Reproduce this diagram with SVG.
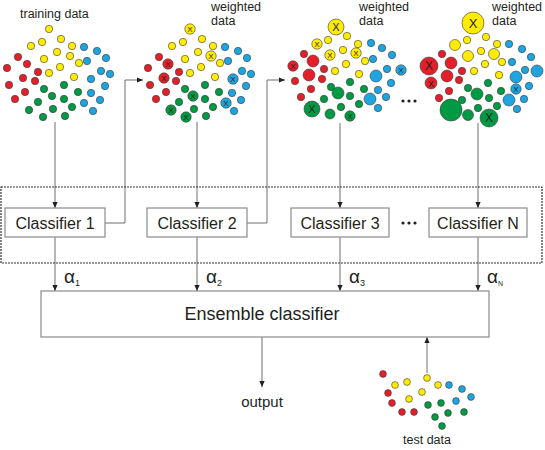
<svg xmlns="http://www.w3.org/2000/svg" width="545" height="450" viewBox="0 0 545 450">
<style>
text{font-family:"Liberation Sans",Arial,sans-serif;fill:#231f20}
.lbl{font-size:12.5px}
.cls{font-size:16px;text-anchor:middle}
.box{fill:#fff;stroke:#8a8a8a;stroke-width:1.2}
.ln{fill:none;stroke:#6e6e6e;stroke-width:1}
.r{fill:#e3202a;stroke:#3a3a3a;stroke-width:.6}
.y{fill:#ffec00;stroke:#3a3a3a;stroke-width:.6}
.g{fill:#009a44;stroke:#3a3a3a;stroke-width:.6}
.b{fill:#1ea5e0;stroke:#3a3a3a;stroke-width:.6}
.x{text-anchor:middle;font-size:8px}
.al{font-size:19px}
.sub{font-size:9px}
.dot{fill:#231f20}
</style>
<defs>
<marker id="ah" viewBox="0 0 6 6" refX="6" refY="3" markerWidth="6" markerHeight="6" markerUnits="userSpaceOnUse" orient="auto">
<path d="M0,0.4 L6,3 L0,5.6 Z" fill="#231f20"/>
</marker>
</defs>

<g id="connectors" class="ln">
<path d="M55,122 V208" marker-end="url(#ah)"/>
<path d="M105,223 H125 V80 H143" marker-end="url(#ah)"/>
<path d="M197,122 V208" marker-end="url(#ah)"/>
<path d="M247,223 H267 V80 H285" marker-end="url(#ah)"/>
<path d="M340,123 V208" marker-end="url(#ah)"/>
<path d="M478,123 V208" marker-end="url(#ah)"/>
<path d="M55,237 V291" marker-end="url(#ah)"/>
<path d="M197,237 V291" marker-end="url(#ah)"/>
<path d="M340,237 V291" marker-end="url(#ah)"/>
<path d="M478,237 V291" marker-end="url(#ah)"/>
<path d="M262,337 V387" marker-end="url(#ah)"/>
<path d="M427,373 V337" marker-end="url(#ah)"/>
</g>

<rect id="ensemble-group" x="1" y="187" width="541" height="76" fill="none" stroke="#333" stroke-width="1.2" stroke-dasharray="2,1"/>

<g id="training-data">
<text class="lbl" x="20" y="18">training data</text>
<circle class="y" cx="49" cy="29" r="3.7"/><circle class="y" cx="31" cy="46" r="3.7"/><circle class="y" cx="42" cy="42" r="3.7"/><circle class="y" cx="61" cy="39" r="3.7"/><circle class="y" cx="72" cy="46" r="3.7"/><circle class="y" cx="57" cy="52" r="3.7"/><circle class="y" cx="70" cy="56" r="3.7"/><circle class="y" cx="44" cy="59" r="3.7"/><circle class="y" cx="79" cy="63" r="3.7"/><circle class="y" cx="60" cy="67" r="3.7"/><circle class="y" cx="49" cy="73" r="3.7"/><circle class="y" cx="74" cy="77" r="3.7"/>
<circle class="r" cx="18" cy="57" r="3.7"/><circle class="r" cx="27" cy="64" r="3.7"/><circle class="r" cx="7" cy="68" r="3.7"/><circle class="r" cx="38" cy="72" r="3.7"/><circle class="r" cx="23" cy="78" r="3.7"/><circle class="r" cx="35" cy="81" r="3.7"/><circle class="r" cx="9" cy="85" r="3.7"/><circle class="r" cx="25" cy="92" r="3.7"/><circle class="r" cx="15" cy="99" r="3.7"/>
<circle class="g" cx="64" cy="85" r="3.7"/><circle class="g" cx="44" cy="89" r="3.7"/><circle class="g" cx="78" cy="92" r="3.7"/><circle class="g" cx="52" cy="96" r="3.7"/><circle class="g" cx="64" cy="99" r="3.7"/><circle class="g" cx="38" cy="102" r="3.7"/><circle class="g" cx="72" cy="107" r="3.7"/><circle class="g" cx="53" cy="109" r="3.7"/><circle class="g" cx="29" cy="110" r="3.7"/><circle class="g" cx="43" cy="117" r="3.7"/><circle class="g" cx="65" cy="116" r="3.7"/>
<circle class="b" cx="84" cy="47" r="3.7"/><circle class="b" cx="97" cy="51" r="3.7"/><circle class="b" cx="106" cy="58" r="3.7"/><circle class="b" cx="87" cy="61" r="3.7"/><circle class="b" cx="101" cy="71" r="3.7"/><circle class="b" cx="110" cy="74" r="3.7"/><circle class="b" cx="91" cy="79" r="3.7"/><circle class="b" cx="105" cy="86" r="3.7"/><circle class="b" cx="91" cy="93" r="3.7"/><circle class="b" cx="84" cy="103" r="3.7"/><circle class="b" cx="100" cy="100" r="3.7"/><circle class="b" cx="93" cy="111" r="3.7"/>
</g>

<g id="weighted-data-2">
<text class="lbl" x="211" y="11">weighted</text><text class="lbl" x="211" y="25">data</text>
<circle class="y" cx="190" cy="29" r="5.2"/><text class="x" x="190" y="32">X</text>
<circle class="y" cx="172" cy="46" r="3.7"/><circle class="y" cx="183" cy="42" r="3.7"/><circle class="y" cx="202" cy="39" r="3.7"/><circle class="y" cx="213" cy="46" r="3.7"/><circle class="y" cx="198" cy="52" r="3.7"/>
<circle class="y" cx="211" cy="56" r="5.2"/><text class="x" x="211" y="59">X</text>
<circle class="y" cx="185" cy="59" r="3.7"/><circle class="y" cx="220" cy="63" r="3.7"/><circle class="y" cx="201" cy="67" r="3.7"/><circle class="y" cx="190" cy="73" r="3.7"/><circle class="y" cx="215" cy="77" r="3.7"/>
<circle class="r" cx="159" cy="57" r="3.7"/>
<circle class="r" cx="168" cy="64" r="5.2"/><text class="x" x="168" y="67">X</text>
<circle class="r" cx="148" cy="68" r="3.7"/><circle class="r" cx="179" cy="72" r="3.7"/>
<circle class="r" cx="164" cy="78" r="5.2"/><text class="x" x="164" y="81">X</text>
<circle class="r" cx="176" cy="81" r="3.7"/><circle class="r" cx="150" cy="85" r="3.7"/><circle class="r" cx="166" cy="92" r="3.7"/><circle class="r" cx="156" cy="99" r="3.7"/>
<circle class="g" cx="205" cy="85" r="3.7"/><circle class="g" cx="185" cy="89" r="3.7"/><circle class="g" cx="219" cy="92" r="3.7"/>
<circle class="g" cx="193" cy="96" r="5.2"/><text class="x" x="193" y="99">X</text>
<circle class="g" cx="205" cy="99" r="3.7"/><circle class="g" cx="179" cy="102" r="3.7"/><circle class="g" cx="213" cy="107" r="3.7"/><circle class="g" cx="194" cy="109" r="3.7"/>
<circle class="g" cx="171" cy="110" r="5.2"/><text class="x" x="171" y="113">X</text>
<circle class="g" cx="186" cy="117" r="5.2"/><text class="x" x="186" y="120">X</text>
<circle class="g" cx="206" cy="116" r="3.7"/>
<circle class="b" cx="225" cy="47" r="3.7"/><circle class="b" cx="238" cy="51" r="3.7"/><circle class="b" cx="247" cy="58" r="3.7"/><circle class="b" cx="228" cy="61" r="3.7"/><circle class="b" cx="242" cy="71" r="3.7"/><circle class="b" cx="251" cy="74" r="3.7"/>
<circle class="b" cx="233" cy="79" r="5.2"/><text class="x" x="233" y="82">X</text>
<circle class="b" cx="246" cy="86" r="3.7"/><circle class="b" cx="232" cy="93" r="3.7"/>
<circle class="b" cx="226" cy="103" r="5.2"/><text class="x" x="226" y="106">X</text>
<circle class="b" cx="241" cy="100" r="3.7"/><circle class="b" cx="234" cy="111" r="3.7"/>
</g>

<g id="weighted-data-3">
<text class="lbl" x="359" y="11">weighted</text><text class="lbl" x="359" y="25">data</text>
<circle class="y" cx="336" cy="27" r="8"/><text class="x" x="336" y="31" style="font-size:11px">X</text>
<circle class="y" cx="317" cy="44" r="5.2"/><text class="x" x="317" y="47">X</text>
<circle class="y" cx="328" cy="40" r="3.7"/><circle class="y" cx="347" cy="36" r="3.7"/><circle class="y" cx="358" cy="44" r="3.7"/><circle class="y" cx="343" cy="50" r="3.7"/>
<circle class="y" cx="356" cy="53" r="5.2"/><text class="x" x="356" y="56">X</text>
<circle class="y" cx="330" cy="55" r="5.2"/><text class="x" x="330" y="58">X</text>
<circle class="y" cx="365" cy="61" r="3.7"/><circle class="y" cx="346" cy="64" r="3.7"/><circle class="y" cx="335" cy="71" r="3.7"/><circle class="y" cx="359" cy="74" r="3.7"/>
<circle class="r" cx="304" cy="54" r="3.7"/><circle class="r" cx="313" cy="61" r="6"/>
<circle class="r" cx="293" cy="66" r="5.2"/><text class="x" x="293" y="69">X</text>
<circle class="r" cx="324" cy="69" r="3.7"/><circle class="r" cx="309" cy="75" r="6"/><circle class="r" cx="322" cy="79" r="3.7"/><circle class="r" cx="295" cy="81" r="3.7"/><circle class="r" cx="311" cy="89" r="3.7"/><circle class="r" cx="301" cy="97" r="3.7"/>
<circle class="g" cx="350" cy="82" r="3.7"/><circle class="g" cx="331" cy="87" r="3.7"/><circle class="g" cx="364" cy="89" r="3.7"/><circle class="g" cx="338" cy="93" r="6"/><circle class="g" cx="350" cy="96" r="3.7"/><circle class="g" cx="324" cy="99" r="3.7"/><circle class="g" cx="359" cy="104" r="3.7"/><circle class="g" cx="341" cy="107" r="3.7"/>
<circle class="g" cx="312" cy="109" r="8"/><text class="x" x="312" y="113" style="font-size:11px">X</text>
<circle class="g" cx="330" cy="114" r="5"/>
<circle class="g" cx="350" cy="116" r="5.2"/><text class="x" x="350" y="119">X</text>
<circle class="b" cx="371" cy="43" r="3.7"/><circle class="b" cx="382" cy="48" r="3.7"/><circle class="b" cx="392" cy="55" r="3.7"/><circle class="b" cx="373" cy="59" r="3.7"/><circle class="b" cx="387" cy="69" r="3.7"/>
<circle class="b" cx="401" cy="70" r="5.2"/><text class="x" x="401" y="73">X</text>
<circle class="b" cx="376" cy="76" r="6"/><circle class="b" cx="391" cy="83" r="3.7"/><circle class="b" cx="378" cy="90" r="3.7"/><circle class="b" cx="370" cy="99" r="6"/><circle class="b" cx="386" cy="97" r="3.7"/><circle class="b" cx="378" cy="108" r="3.7"/>
</g>

<g id="ellipsis-top">
<circle class="dot" cx="403" cy="101" r="1.6"/><circle class="dot" cx="409" cy="101" r="1.6"/><circle class="dot" cx="415" cy="101" r="1.6"/>
</g>

<g id="weighted-data-n">
<text class="lbl" x="492" y="11">weighted</text><text class="lbl" x="492" y="25">data</text>
<circle class="y" cx="473" cy="23" r="11"/><text class="x" x="473" y="28" style="font-size:13px">X</text>
<circle class="y" cx="455" cy="45" r="5.5"/><circle class="y" cx="467" cy="40" r="3.7"/><circle class="y" cx="486" cy="37" r="3.7"/><circle class="y" cx="497" cy="44" r="3.7"/><circle class="y" cx="481" cy="51" r="3.7"/><circle class="y" cx="494" cy="54" r="5.5"/><circle class="y" cx="468" cy="56" r="5.5"/><circle class="y" cx="502" cy="62" r="3.7"/><circle class="y" cx="485" cy="64" r="3.7"/><circle class="y" cx="474" cy="71" r="3.7"/><circle class="y" cx="499" cy="75" r="3.7"/>
<circle class="r" cx="442" cy="54" r="3.7"/><circle class="r" cx="451" cy="63" r="6"/>
<circle class="r" cx="429" cy="66" r="9"/><text class="x" x="429" y="70" style="font-size:12px">X</text>
<circle class="r" cx="462" cy="71" r="3.7"/><circle class="r" cx="447" cy="76" r="6"/><circle class="r" cx="459" cy="80" r="3.7"/>
<circle class="r" cx="431" cy="83" r="6"/><text class="x" x="431" y="86.5" style="font-size:9px">X</text>
<circle class="r" cx="449" cy="91" r="3.7"/><circle class="r" cx="439" cy="98" r="3.7"/>
<circle class="g" cx="488" cy="83" r="3.7"/><circle class="g" cx="468" cy="88" r="3.7"/><circle class="g" cx="501" cy="91" r="3.7"/><circle class="g" cx="477" cy="94" r="6"/><circle class="g" cx="489" cy="98" r="3.7"/><circle class="g" cx="462" cy="100" r="3.7"/><circle class="g" cx="497" cy="106" r="3.7"/><circle class="g" cx="478" cy="108" r="3.7"/><circle class="g" cx="451" cy="110" r="11"/><circle class="g" cx="468" cy="115" r="5.5"/>
<circle class="g" cx="489" cy="118" r="9"/><text class="x" x="489" y="122" style="font-size:12px">X</text>
<circle class="b" cx="509" cy="44" r="3.7"/><circle class="b" cx="522" cy="49" r="3.7"/><circle class="b" cx="531" cy="57" r="3.7"/><circle class="b" cx="512" cy="62" r="3.7"/><circle class="b" cx="525" cy="70" r="3.7"/><circle class="b" cx="537" cy="71" r="6"/><circle class="b" cx="516" cy="77" r="6"/><circle class="b" cx="529" cy="86" r="3.7"/>
<circle class="b" cx="516" cy="89" r="5.2"/><text class="x" x="516" y="92">X</text>
<circle class="b" cx="509" cy="100" r="6"/><circle class="b" cx="524" cy="99" r="3.7"/><circle class="b" cx="517" cy="109" r="3.7"/>
</g>

<g id="classifier-1"><rect class="box" x="5" y="208" width="100" height="29"/><text class="cls" x="55" y="228.5">Classifier 1</text></g>
<g id="classifier-2"><rect class="box" x="147" y="208" width="100" height="29"/><text class="cls" x="197" y="228.5">Classifier 2</text></g>
<g id="classifier-3"><rect class="box" x="291" y="208" width="98" height="29"/><text class="cls" x="340" y="228.5">Classifier 3</text></g>
<g id="ellipsis-mid">
<circle class="dot" cx="403" cy="223" r="1.6"/><circle class="dot" cx="409" cy="223" r="1.6"/><circle class="dot" cx="415" cy="223" r="1.6"/>
</g>
<g id="classifier-n"><rect class="box" x="429" y="208" width="98" height="29"/><text class="cls" x="478" y="228.5">Classifier N</text></g>

<g id="alphas">
<text class="al" x="64" y="283">α<tspan class="sub" dy="3">1</tspan></text>
<text class="al" x="206" y="283">α<tspan class="sub" dy="3">2</tspan></text>
<text class="al" x="349" y="283">α<tspan class="sub" dy="3">3</tspan></text>
<text class="al" x="487" y="283">α<tspan class="sub" dy="3" style="font-size:7px">N</tspan></text>
</g>

<g id="ensemble-classifier"><rect class="box" x="41" y="291" width="448" height="46"/><text x="262" y="320" style="font-size:18px;text-anchor:middle">Ensemble classifier</text></g>

<g id="output"><text x="262" y="407" style="font-size:15px;text-anchor:middle">output</text></g>

<g id="test-data">
<circle class="r" cx="383" cy="374" r="3.4"/><circle class="r" cx="388" cy="393" r="3.4"/><circle class="r" cx="392" cy="403" r="3.4"/><circle class="r" cx="402" cy="412" r="3.4"/><circle class="r" cx="414" cy="412" r="3.4"/>
<circle class="y" cx="395" cy="385" r="3.4"/><circle class="y" cx="407" cy="382" r="3.4"/><circle class="y" cx="427" cy="378" r="3.4"/><circle class="y" cx="438" cy="385" r="3.4"/><circle class="y" cx="422" cy="392" r="3.4"/><circle class="y" cx="409" cy="399" r="3.4"/>
<circle class="b" cx="449" cy="385" r="3.4"/><circle class="b" cx="462" cy="389" r="3.4"/><circle class="b" cx="471" cy="397" r="3.4"/><circle class="b" cx="456" cy="401" r="3.4"/>
<circle class="g" cx="428" cy="405" r="3.4"/><circle class="g" cx="441" cy="403" r="3.4"/><circle class="g" cx="435" cy="417" r="3.4"/><circle class="g" cx="448" cy="413" r="3.4"/><circle class="g" cx="464" cy="412" r="3.4"/><circle class="g" cx="442" cy="426" r="3.4"/>
<text class="lbl" x="427" y="444" style="text-anchor:middle">test data</text>
</g>
</svg>
